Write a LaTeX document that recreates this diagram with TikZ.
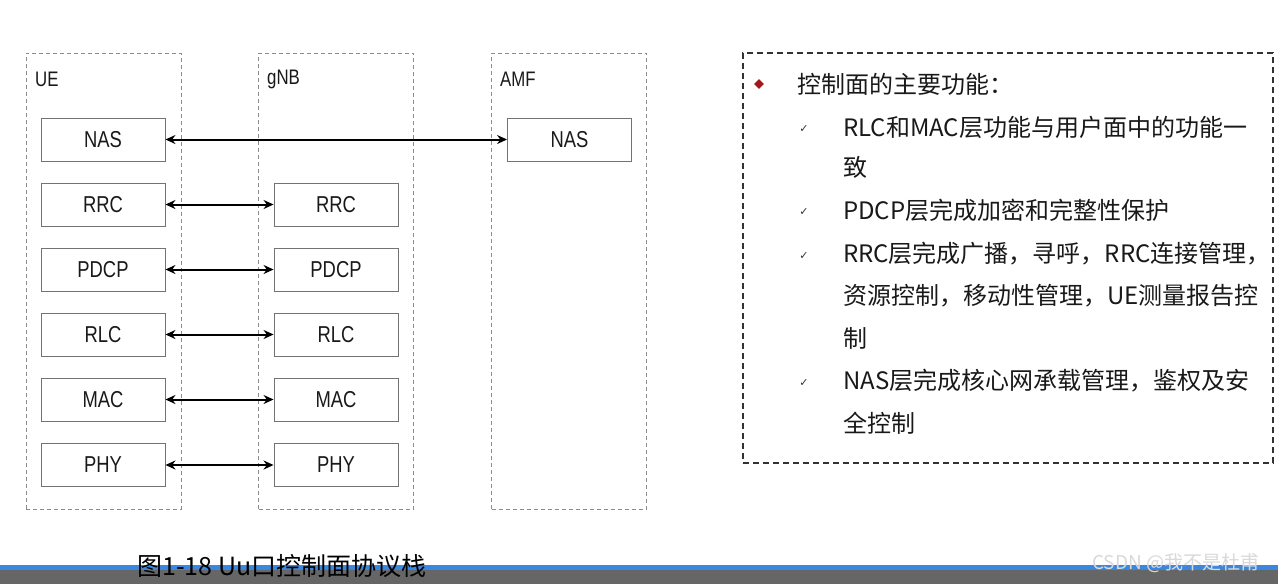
\documentclass[tikz,border=0pt]{standalone}
\usepackage{fontspec}
\setmainfont{Liberation Sans}
\newfontfamily\boxfont[FakeStretch=0.8]{Liberation Sans}
\newfontfamily\cjk{Noto Sans CJK SC}
\newfontfamily\symfont{DejaVu Sans}
\usetikzlibrary{arrows.meta,shapes.geometric}
\definecolor{bulletred}{HTML}{A3191B}
\definecolor{barblue}{HTML}{3A87E0}
\definecolor{bargray}{HTML}{666666}
\begin{document}
\begin{tikzpicture}[x=1pt,y=-1pt,
 container/.style={draw=black!45, dash pattern=on 4pt off 3pt, line width=0.9pt, minimum width=155pt, minimum height=456pt, inner sep=0pt},
 layer/.style={draw=black!55, line width=0.9pt, minimum width=124pt, minimum height=43pt, inner sep=0pt, font=\boxfont\fontsize{23}{26}\selectfont, text=black!90},
 tag/.style={anchor=west, inner sep=0pt, font=\boxfont\fontsize{21}{24}\selectfont, text=black!90},
 arr/.style={{Stealth[length=10pt,width=9pt]}-{Stealth[length=10pt,width=9pt]}, line width=2pt},
 txtline/.style={anchor=west, inner sep=0pt, font=\cjk\fontsize{24}{28}\selectfont, text=black!90},
 chk/.style={inner sep=0pt, font=\symfont\fontsize{11}{12}\selectfont, text=black!80},
]
\useasboundingbox (0,0) rectangle (1278,584);
\fill[white] (0,0) rectangle (1278,584);

% containers
\node[container] (ue)  at (103.5,281) {};
\node[container] (gnb) at (336,281) {};
\node[container] (amf) at (569,281) {};
\node[tag] (uel)  at (35,79)  {UE};
\node[tag] (gnbl) at (267,79) {gNB};
\node[tag] (amfl) at (500,79) {AMF};

% layers
\node[layer] (ue-nas)  at (103,139.5) {NAS};
\node[layer] (ue-rrc)  at (103,204.5) {RRC};
\node[layer] (ue-pdcp) at (103,269.5) {PDCP};
\node[layer] (ue-rlc)  at (103,334.5) {RLC};
\node[layer] (ue-mac)  at (103,399.5) {MAC};
\node[layer] (ue-phy)  at (103,465)   {PHY};

\node[layer] (g-rrc)  at (336,204.5) {RRC};
\node[layer] (g-pdcp) at (336,269.5) {PDCP};
\node[layer] (g-rlc)  at (336,334.5) {RLC};
\node[layer] (g-mac)  at (336,399.5) {MAC};
\node[layer] (g-phy)  at (336,465)   {PHY};

\node[layer] (a-nas) at (569.5,139.5) {NAS};

% arrows
\draw[arr] (ue-nas.east) -- (a-nas.west);
\draw[arr] (ue-rrc.east) -- (g-rrc.west);
\draw[arr] (ue-pdcp.east) -- (g-pdcp.west);
\draw[arr] (ue-rlc.east) -- (g-rlc.west);
\draw[arr] (ue-mac.east) -- (g-mac.west);
\draw[arr] (ue-phy.east) -- (g-phy.west);

% right text box
\node[draw=black!80, dash pattern=on 6pt off 4pt, line width=1.1pt, minimum width=530pt, minimum height=410pt, inner sep=0pt] (panel) at (1008,258) {};
\node[diamond, fill=bulletred, minimum size=10pt, inner sep=0pt] (dia) at (759,84) {};
\node[txtline] (h) at (797,84) {控制面的主要功能：};
\node[chk] (c1) at (804,129) {✓};
\node[chk] (c2) at (804,212) {✓};
\node[chk] (c3) at (804,256) {✓};
\node[chk] (c4) at (804,383) {✓};
\node[txtline] (l1) at (843,127) {RLC和MAC层功能与用户面中的功能一};
\node[txtline] (l2) at (843,167) {致};
\node[txtline] (l3) at (843,210) {PDCP层完成加密和完整性保护};
\node[txtline] (l4) at (843,254) {RRC层完成广播，寻呼，RRC连接管理，};
\node[txtline] (l5) at (843,296) {资源控制，移动性管理，UE测量报告控};
\node[txtline] (l6) at (843,338) {制};
\node[txtline] (l7) at (843,381) {NAS层完成核心网承载管理，鉴权及安};
\node[txtline] (l8) at (843,423) {全控制};

% bottom bars
\fill[barblue] (0,565) rectangle (1278,570);
\fill[bargray] (0,570) rectangle (1278,584);
\node[anchor=west, inner sep=0pt, font=\cjk\fontsize{25}{28}\selectfont, text=black] (cap) at (137,566) {图1-18 Uu口控制面协议栈};
\node[anchor=west, inner sep=0pt, font=\cjk\fontsize{19}{22}\selectfont, text=black!15] (wm) at (1092,563) {CSDN @我不是杜甫};
\end{tikzpicture}
\end{document}
